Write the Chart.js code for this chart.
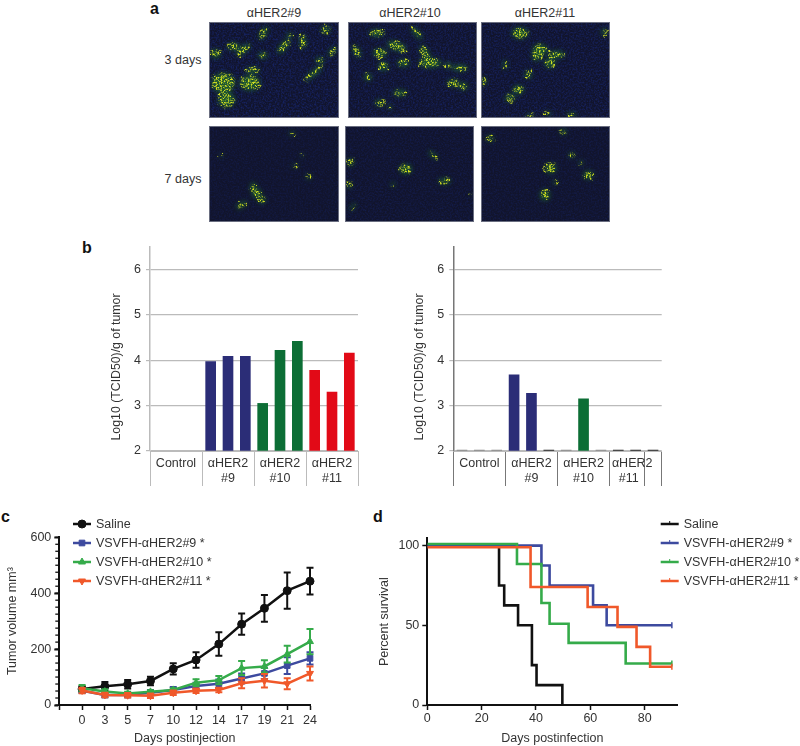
<!DOCTYPE html>
<html>
<head>
<meta charset="utf-8">
<title>VSVFH-αHER2 figure</title>
<script src="https://cdn.jsdelivr.net/npm/chart.js@4"></script>
<style>
  html, body { margin: 0; padding: 0; background: #fff; }
  #page { position: relative; width: 800px; height: 746px; overflow: hidden;
          font-family: "Liberation Sans", Arial, sans-serif; font-size: 12.5px; color: #333; }
  #page canvas { position: absolute; }
  .txt { position: absolute; white-space: nowrap; line-height: 14px; transform: translate(-50%, -50%); }
  .letter { position: absolute; font-weight: bold; font-size: 16px; color: #111; line-height: 16px; }
  .micro { position: absolute; display: block; outline: 1px solid #6a6e80; outline-offset: -1px; }
</style>
</head>
<body>
<div id="page">
  <div class="letter" style="left:150px;top:1px">a</div>
  <div class="letter" style="left:82px;top:240px">b</div>
  <div class="letter" style="left:1px;top:509px">c</div>
  <div class="letter" style="left:373px;top:509px">d</div>

  <div class="txt" style="left:274px;top:13px">αHER2#9</div>
  <div class="txt" style="left:410px;top:13px">αHER2#10</div>
  <div class="txt" style="left:545px;top:13px">αHER2#11</div>
  <div class="txt" style="left:183px;top:60px">3 days</div>
  <div class="txt" style="left:183px;top:179px">7 days</div>

  <canvas id="barLeft"></canvas>
  <canvas id="barRight"></canvas>
  <canvas id="volumeChart"></canvas>
  <canvas id="survivalChart"></canvas>
</div>

<script>
// panel b
const slotLabels = ["c1", "c2", "c3", "a1", "a2", "a3", "b1", "b2", "b3", "d1", "d2", "d3"];
const barLeftValues = [null, null, null, 3.97, 4.09, 4.09, 3.05, 4.22, 4.42, 3.78, 3.30, 4.16];
const barRightValues = [2, 2, 2, 3.68, 3.27, 2, 2, 3.15, 2, 2, 2, 2];
const barLeftColors = ["#999", "#999", "#999", "#2b2d77", "#2b2d77", "#2b2d77", "#0c6e35", "#0c6e35", "#0c6e35", "#e20a17", "#e20a17", "#e20a17"];
const barRightColors = ["#888", "#888", "#888", "#2b2d77", "#2b2d77", "#222", "#888", "#0c6e35", "#888", "#222", "#222", "#222"];
const groupLabelsLeft = { 1: "Control", 4: ["αHER2", "#9"], 7: ["αHER2", "#10"], 10: ["αHER2", "#11"] };
// trailing spaces push the #11 label left, as it sits off-centre in the original
const groupLabelsRight = { 1: "Control", 4: ["αHER2", "#9"], 7: ["αHER2", "#10"], 10: ["αHER2  ", "#11    "] };
const rightSeparators = [0, 3, 6, 9, 11];
const leftSeparators = [0, 3, 6, 9];

// panel c
const volumeDays = ["", "0", "3", "5", "7", "10", "12", "14", "17", "19", "21", "24"];
const salineVolume = [null, 57, 67, 74, 86, 129, 161, 218, 289, 346, 409, 443];
const salineVolumeErr = [null, 10, 15, 15, 15, 20, 28, 42, 38, 48, 65, 48];
const her9Volume = [null, 51, 36, 36, 44, 54, 68, 76, 95, 113, 141, 167];
const her9VolumeErr = [null, 8, 8, 8, 10, 10, 12, 15, 18, 20, 30, 22];
const her10Volume = [null, 60, 48, 41, 47, 54, 80, 89, 132, 138, 182, 227];
const her10VolumeErr = [null, 12, 8, 6, 6, 6, 12, 15, 25, 22, 30, 45];
const her11Volume = [null, 52, 36, 35, 33, 44, 51, 54, 78, 87, 76, 113];
const her11VolumeErr = [null, 10, 8, 8, 8, 8, 8, 8, 18, 24, 20, 25];
const volumeMinorStep = 25;

// panel d
const salineDays = [0, 26.4, 28.3, 33.4, 38.5, 40.2, 49.7];
const salineSurvival = [100, 75, 62.5, 50, 25, 12.5, 0];
const her9Days = [0, 42, 45, 61, 66, 90];
const her9Survival = [100, 87.5, 75, 62.5, 50, 50];
const her10Days = [0, 33, 42, 45, 52, 73, 90];
const her10Survival = [101, 88.5, 64, 51, 39, 26, 26];
const her11Days = [0, 38, 59, 70, 77, 82, 90];
const her11Survival = [99, 74, 61.5, 49, 36.5, 24, 24];

const seriesNames = ["Saline", "VSVFH-αHER2#9 *", "VSVFH-αHER2#10 *", "VSVFH-αHER2#11 *"];
const seriesColors = ["#111111", "#3d4a9f", "#35ab4a", "#f0582a"];

Chart.defaults.font.family = '"Liberation Sans", Arial, sans-serif';
Chart.defaults.font.size = 12.5;
Chart.defaults.color = "#333";
Chart.defaults.animation = false;
Chart.defaults.responsive = false;

function place(id, box) {
  const c = document.getElementById(id);
  c.style.left = box.x + "px";
  c.style.top = box.y + "px";
  c.width = box.w;
  c.height = box.h;
  return c;
}

// fix the plot rectangle so the axes land where they do in the original
function layoutFor(box, plot) {
  return { padding: { left: 0, top: plot.top - box.y, right: box.x + box.w - plot.right, bottom: 0 } };
}
function fixWidth(w) {
  return function(s) { s.width = w; s.paddingTop = 0; s.paddingBottom = 0; };
}
function fixHeight(h) {
  return function(s) { s.height = h; s.paddingLeft = 0; s.paddingRight = 0; };
}

// y title of panel b sits lower than the axis centre, so it gets placed by hand
const offsetTitle = {
  id: "offsetTitle",
  afterDraw(chart, args, opts) {
    if (!opts.text) return;
    const ctx = chart.ctx;
    ctx.save();
    ctx.translate(opts.x, opts.y);
    ctx.rotate(-Math.PI / 2);
    ctx.font = '12.3px "Liberation Sans", Arial, sans-serif';
    ctx.fillStyle = "#333";
    ctx.textAlign = "center";
    ctx.textBaseline = "middle";
    ctx.fillText(opts.text, 0, 0);
    ctx.restore();
  }
};

function barChart(id, box, plot, values, colors, groupLabels, separators, lineColor, titleX) {
  return new Chart(place(id, box), {
    type: "bar",
    plugins: [offsetTitle],
    data: {
      labels: slotLabels,
      datasets: [{
        data: values,
        backgroundColor: colors,
        barThickness: 10,
        base: 2,
        minBarLength: 1
      }]
    },
    options: {
      layout: layoutFor(box, plot),
      plugins: {
        legend: { display: false },
        tooltip: { enabled: false },
        offsetTitle: { text: "Log10 (TCID50)/g of tumor", x: titleX, y: 367 - box.y }
      },
      scales: {
        x: {
          afterFit: fixHeight(box.y + box.h - plot.bottom),
          grid: {
            offset: true,
            drawOnChartArea: false,
            tickLength: 35,
            tickColor: function(ctx) {
              if (ctx.index === undefined) return lineColor;
              return separators.includes(ctx.index) ? lineColor : "rgba(0,0,0,0)";
            }
          },
          border: { color: "#bbb", width: 1 },
          ticks: {
            autoSkip: false,
            maxRotation: 0,
            minRotation: 0,
            padding: -30,
            color: "#333",
            callback: function(v, i) { return groupLabels[i] || ""; }
          }
        },
        y: {
          min: 2,
          max: 6.5,
          afterFit: fixWidth(plot.left - box.x),
          grid: { color: "#bbb", lineWidth: 1.2, tickLength: 4, tickColor: "#bbb" },
          border: { color: lineColor, width: 1.5 },
          ticks: {
            stepSize: 1,
            includeBounds: false,
            padding: 5,
            color: "#333"
          }
        }
      }
    }
  });
}

barChart("barLeft", { x: 100, y: 240, w: 270, h: 250 }, { left: 150, right: 358, top: 247, bottom: 451 },
  barLeftValues, barLeftColors, groupLabelsLeft, leftSeparators, "#bbb", 17);
barChart("barRight", { x: 405, y: 240, w: 270, h: 250 }, { left: 453.3, right: 661.7, top: 247, bottom: 451 },
  barRightValues, barRightColors, groupLabelsRight, rightSeparators, "#777", 15);

// error bars go through the y scale, right after their own line is drawn
const errorBars = {
  id: "errorBars",
  afterDatasetDraw(chart, args) {
    const ds = chart.data.datasets[args.index];
    if (!ds.errors) return;
    const ctx = chart.ctx, y = chart.scales.y, x = chart.scales.x;
    ctx.save();
    ctx.strokeStyle = ds.borderColor;
    ctx.lineWidth = 2;
    ds.data.forEach(function(v, i) {
      if (v === null) return;
      const px = x.getPixelForValue(i);
      const hi = y.getPixelForValue(v + ds.errors[i]);
      const lo = y.getPixelForValue(v - ds.errors[i]);
      ctx.beginPath();
      ctx.moveTo(px, hi); ctx.lineTo(px, lo);
      ctx.moveTo(px - 3.5, hi); ctx.lineTo(px + 3.5, hi);
      ctx.moveTo(px - 3.5, lo); ctx.lineTo(px + 3.5, lo);
      ctx.stroke();
    });
    ctx.restore();
  }
};

// Chart.js has one tick length per axis, panel c wants short minor ticks as well
const minorTicks = {
  id: "minorTicks",
  afterDraw(chart, args, opts) {
    const ctx = chart.ctx, y = chart.scales.y;
    ctx.save();
    ctx.strokeStyle = "#111";
    ctx.lineWidth = 1.3;
    for (let v = y.min; v <= y.max; v += opts.step) {
      const py = y.getPixelForValue(v);
      ctx.beginPath();
      ctx.moveTo(y.right - 4, py);
      ctx.lineTo(y.right, py);
      ctx.stroke();
    }
    ctx.restore();
  }
};

// legend rows with a line and marker, placed next to the plots
const lineLegend = {
  id: "lineLegend",
  afterDraw(chart, args, opts) {
    const ctx = chart.ctx;
    chart.data.datasets.forEach(function(ds) {
      const row = opts.rows[ds.label];
      const y = opts.y + row * 19;
      ctx.save();
      ctx.strokeStyle = ds.borderColor;
      ctx.lineWidth = 2.5;
      ctx.beginPath();
      ctx.moveTo(opts.x, y);
      ctx.lineTo(opts.x + 18, y);
      ctx.stroke();
      if (opts.marker) {
        ctx.fillStyle = ds.borderColor;
        ctx.lineWidth = 1;
        Chart.helpers.drawPoint(ctx, {
          pointStyle: ds.pointStyle,
          rotation: ds.pointRotation || 0,
          radius: 4,
          borderWidth: 1
        }, opts.x + 9, y);
      } else {
        ctx.lineWidth = 1;
        ctx.beginPath();
        ctx.moveTo(opts.x + 9, y - 3);
        ctx.lineTo(opts.x + 9, y);
        ctx.stroke();
      }
      ctx.fillStyle = "#333";
      ctx.font = '12.5px "Liberation Sans", Arial, sans-serif';
      ctx.textBaseline = "middle";
      ctx.fillText(ds.label, opts.x + 23, y + 0.5);
      ctx.restore();
    });
  }
};

const legendRows = {};
seriesNames.forEach(function(n, i) { legendRows[n] = i; });

function volumeSet(i, values, errors, style, rotation, order) {
  return {
    label: seriesNames[i],
    data: values,
    errors: errors,
    borderColor: seriesColors[i],
    backgroundColor: seriesColors[i],
    borderWidth: 2.5,
    pointStyle: style,
    pointRotation: rotation,
    pointRadius: 4,
    pointBorderWidth: 1,
    order: order
  };
}

const volumeBox = { x: 0, y: 510, w: 330, h: 236 };
const volumePlot = { left: 59.3, right: 310, top: 537.3, bottom: 705 };
new Chart(place("volumeChart", volumeBox), {
  type: "line",
  plugins: [errorBars, minorTicks, lineLegend],
  data: {
    labels: volumeDays,
    datasets: [
      volumeSet(0, salineVolume, salineVolumeErr, "circle", 0, 3),
      volumeSet(1, her9Volume, her9VolumeErr, "rect", 0, 2),
      volumeSet(2, her10Volume, her10VolumeErr, "triangle", 0, 1),
      volumeSet(3, her11Volume, her11VolumeErr, "triangle", 180, 0)
    ]
  },
  options: {
    layout: layoutFor(volumeBox, volumePlot),
    plugins: {
      legend: { display: false },
      tooltip: { enabled: false },
      minorTicks: { step: volumeMinorStep },
      lineLegend: { x: 73, y: 524 - volumeBox.y, rows: legendRows, marker: true }
    },
    scales: {
      x: {
        afterFit: fixHeight(volumeBox.y + volumeBox.h - volumePlot.bottom),
        offset: false,
        grid: {
          drawOnChartArea: false,
          tickLength: 5,
          tickColor: "#111",
          tickWidth: 1.5
        },
        border: { color: "#111", width: 2 },
        ticks: { autoSkip: false, maxRotation: 0, minRotation: 0, padding: 3, color: "#333" },
        title: { display: true, text: "Days postinjection", color: "#333", padding: { top: 0, bottom: 0 } }
      },
      y: {
        min: 0,
        max: 600,
        afterFit: fixWidth(volumePlot.left - volumeBox.x),
        grid: { drawOnChartArea: false, tickLength: 5, tickColor: "#111", tickWidth: 2 },
        border: { color: "#111", width: 2 },
        ticks: { stepSize: 200, padding: 3, color: "#333" },
        title: { display: true, text: "Tumor volume mm³", color: "#333", padding: { top: 5, bottom: 0 } }
      }
    }
  }
});

function pairUp(days, survival) {
  return days.map(function(d, i) { return { x: d, y: survival[i] }; });
}

function survivalSet(i, days, survival, order) {
  return {
    label: seriesNames[i],
    data: pairUp(days, survival),
    borderColor: seriesColors[i],
    backgroundColor: seriesColors[i],
    borderWidth: 2.6,
    stepped: true,
    pointStyle: "line",
    pointRotation: 90,
    pointBorderWidth: 1.5,
    pointRadius: function(ctx) { return ctx.raw && ctx.raw.x === 90 ? 3 : 0; },
    order: order
  };
}

const survivalBox = { x: 375, y: 510, w: 425, h: 236 };
const survivalPlot = { left: 427.3, right: 677.3, top: 538.3, bottom: 705 };
new Chart(place("survivalChart", survivalBox), {
  type: "line",
  plugins: [lineLegend],
  data: {
    datasets: [
      survivalSet(0, salineDays, salineSurvival, 3),
      survivalSet(1, her9Days, her9Survival, 2),
      survivalSet(2, her10Days, her10Survival, 1),
      survivalSet(3, her11Days, her11Survival, 0)
    ]
  },
  options: {
    layout: layoutFor(survivalBox, survivalPlot),
    plugins: {
      legend: { display: false },
      tooltip: { enabled: false },
      lineLegend: { x: 660.7 - survivalBox.x, y: 524 - survivalBox.y, rows: legendRows, marker: false }
    },
    scales: {
      x: {
        type: "linear",
        min: 0,
        max: 92,
        afterFit: fixHeight(survivalBox.y + survivalBox.h - survivalPlot.bottom),
        grid: { drawOnChartArea: false, tickLength: 5, tickColor: "#111", tickWidth: 1.5 },
        border: { color: "#111", width: 2 },
        ticks: { stepSize: 20, includeBounds: false, maxRotation: 0, padding: 1, color: "#333" },
        title: { display: true, text: "Days postinfection", color: "#333", padding: { top: 0, bottom: 0 } }
      },
      y: {
        min: 0,
        max: 104.6,
        afterFit: fixWidth(survivalPlot.left - survivalBox.x),
        grid: { drawOnChartArea: false, tickLength: 5, tickColor: "#111", tickWidth: 1.5 },
        border: { color: "#111", width: 2 },
        ticks: { stepSize: 50, includeBounds: false, padding: 3, color: "#333" },
        title: { display: true, text: "Percent survival", color: "#333", padding: { top: 2, bottom: 0 } }
      }
    }
  }
});

// panel a: the micrographs are photographs, so these are only painted impressions
const microPanels = [
  { x: 209, y: 22, w: 130, h: 96, tissue: 0.9,
    spots: "42,183,34,30 122,183,30,22 52,233,24,22 102,83,26,9,-40 162,33,22,8,-60 222,73,26,9,-50 279,58,8,22 312,153,34,7,-40 347,23,12,10 367,88,16,7,-50 72,73,18,10 20,95,14,12 160,100,14,8 130,145,20,8 330,115,12,8 240,40,10,6" },
  { x: 348, y: 22, w: 129, h: 96, tissue: 0.8,
    spots: "26,88,20,8,60 86,33,22,10 146,73,30,12,20 206,33,24,7,50 231,93,24,10,60 246,123,34,13 96,93,20,12 106,133,14,12 166,123,18,10 316,183,18,10 346,193,12,10 156,213,20,8 96,243,14,8 126,255,6,6 336,138,24,8 300,130,10,8 60,165,10,10" },
  { x: 481, y: 22, w: 129, h: 96, tissue: 0.8,
    spots: "117,33,24,16 177,83,22,16 227,98,24,10 167,103,14,12 207,123,16,14 112,203,16,12 87,228,14,10 142,158,10,10 272,278,12,6 147,283,10,6 7,178,8,12 72,128,6,12 200,275,10,5 370,30,8,10" },
  { x: 209, y: 126, w: 130, h: 96, tissue: 0.4,
    spots: "142,202,14,12 97,237,18,7,-30 132,182,8,12 157,222,10,10 37,89,4,5 277,89,4,4 257,119,10,3 297,152,8,6 247,22,8,5" },
  { x: 345, y: 126, w: 129, h: 96, tissue: 0.5,
    spots: "182,129,18,14 299,165,18,8 12,177,9,8 16,109,9,10 264,87,18,5,40 24,242,14,4,-50 144,175,6,6 379,207,3,4" },
  { x: 481, y: 126, w: 129, h: 96, tissue: 0.45,
    spots: "209,127,16,14 192,207,14,16 322,147,14,12 272,87,8,7 247,17,9,7 27,37,10,8 222,169,6,6 300,110,6,6" }
];

function microSvg(p, n) {
  const spots = p.spots.split(" ").map(function(s) {
    const v = s.split(",");
    return '<ellipse cx="' + v[0] + '" cy="' + v[1] + '" rx="' + v[2] + '" ry="' + v[3] + '"' +
      (v[4] ? ' transform="rotate(' + v[4] + " " + v[0] + " " + v[1] + ')"' : "") + "/>";
  }).join("");
  return '<svg class="micro" xmlns="http://www.w3.org/2000/svg" viewBox="0 0 387 288" preserveAspectRatio="none"' +
    ' color-interpolation-filters="sRGB"' +
    ' style="left:' + p.x + "px;top:" + p.y + "px;width:" + p.w + "px;height:" + p.h + 'px">' +
    "<defs>" +
    '<filter id="tissue' + n + '" x="0" y="0" width="100%" height="100%">' +
    '<feTurbulence type="fractalNoise" baseFrequency="0.2" numOctaves="2" seed="' + (n + 3) + '"/>' +
    '<feColorMatrix values="0 0 0 0 0.09  0 0 0 0 0.14  0 0 0 0 0.4  2.4 0 0 0 -0.9"/>' +
    "</filter>" +
    '<filter id="spark' + n + '" x="-10%" y="-10%" width="120%" height="120%">' +
    '<feTurbulence type="fractalNoise" baseFrequency="0.05" numOctaves="2" seed="' + (n + 21) + '" result="warp"/>' +
    '<feDisplacementMap in="SourceGraphic" in2="warp" scale="30" xChannelSelector="R" yChannelSelector="G"/>' +
    '<feGaussianBlur stdDeviation="1.8" result="b"/>' +
    '<feTurbulence type="fractalNoise" baseFrequency="0.2" numOctaves="2" seed="' + (n + 11) + '"/>' +
    '<feColorMatrix values="0 0 0 0 1  0 0 0 0 1  0 0 0 0 1  4 0 0 0 -1.8" result="t"/>' +
    '<feComposite in="b" in2="t" operator="in"/>' +
    "</filter>" +
    '<filter id="haze' + n + '" x="-20%" y="-20%" width="140%" height="140%"><feGaussianBlur stdDeviation="8"/></filter>' +
    "</defs>" +
    '<rect width="387" height="288" fill="#11142c"/>' +
    '<rect width="387" height="288" filter="url(#tissue' + n + ')" opacity="' + p.tissue + '"/>' +
    '<g fill="#24752c" opacity="0.7" filter="url(#haze' + n + ')">' + spots + "</g>" +
    '<g fill="#d3e021" filter="url(#spark' + n + ')">' + spots + "</g>" +
    "</svg>";
}

document.getElementById("page").insertAdjacentHTML("beforeend", microPanels.map(microSvg).join(""));
</script>
</body>
</html>
